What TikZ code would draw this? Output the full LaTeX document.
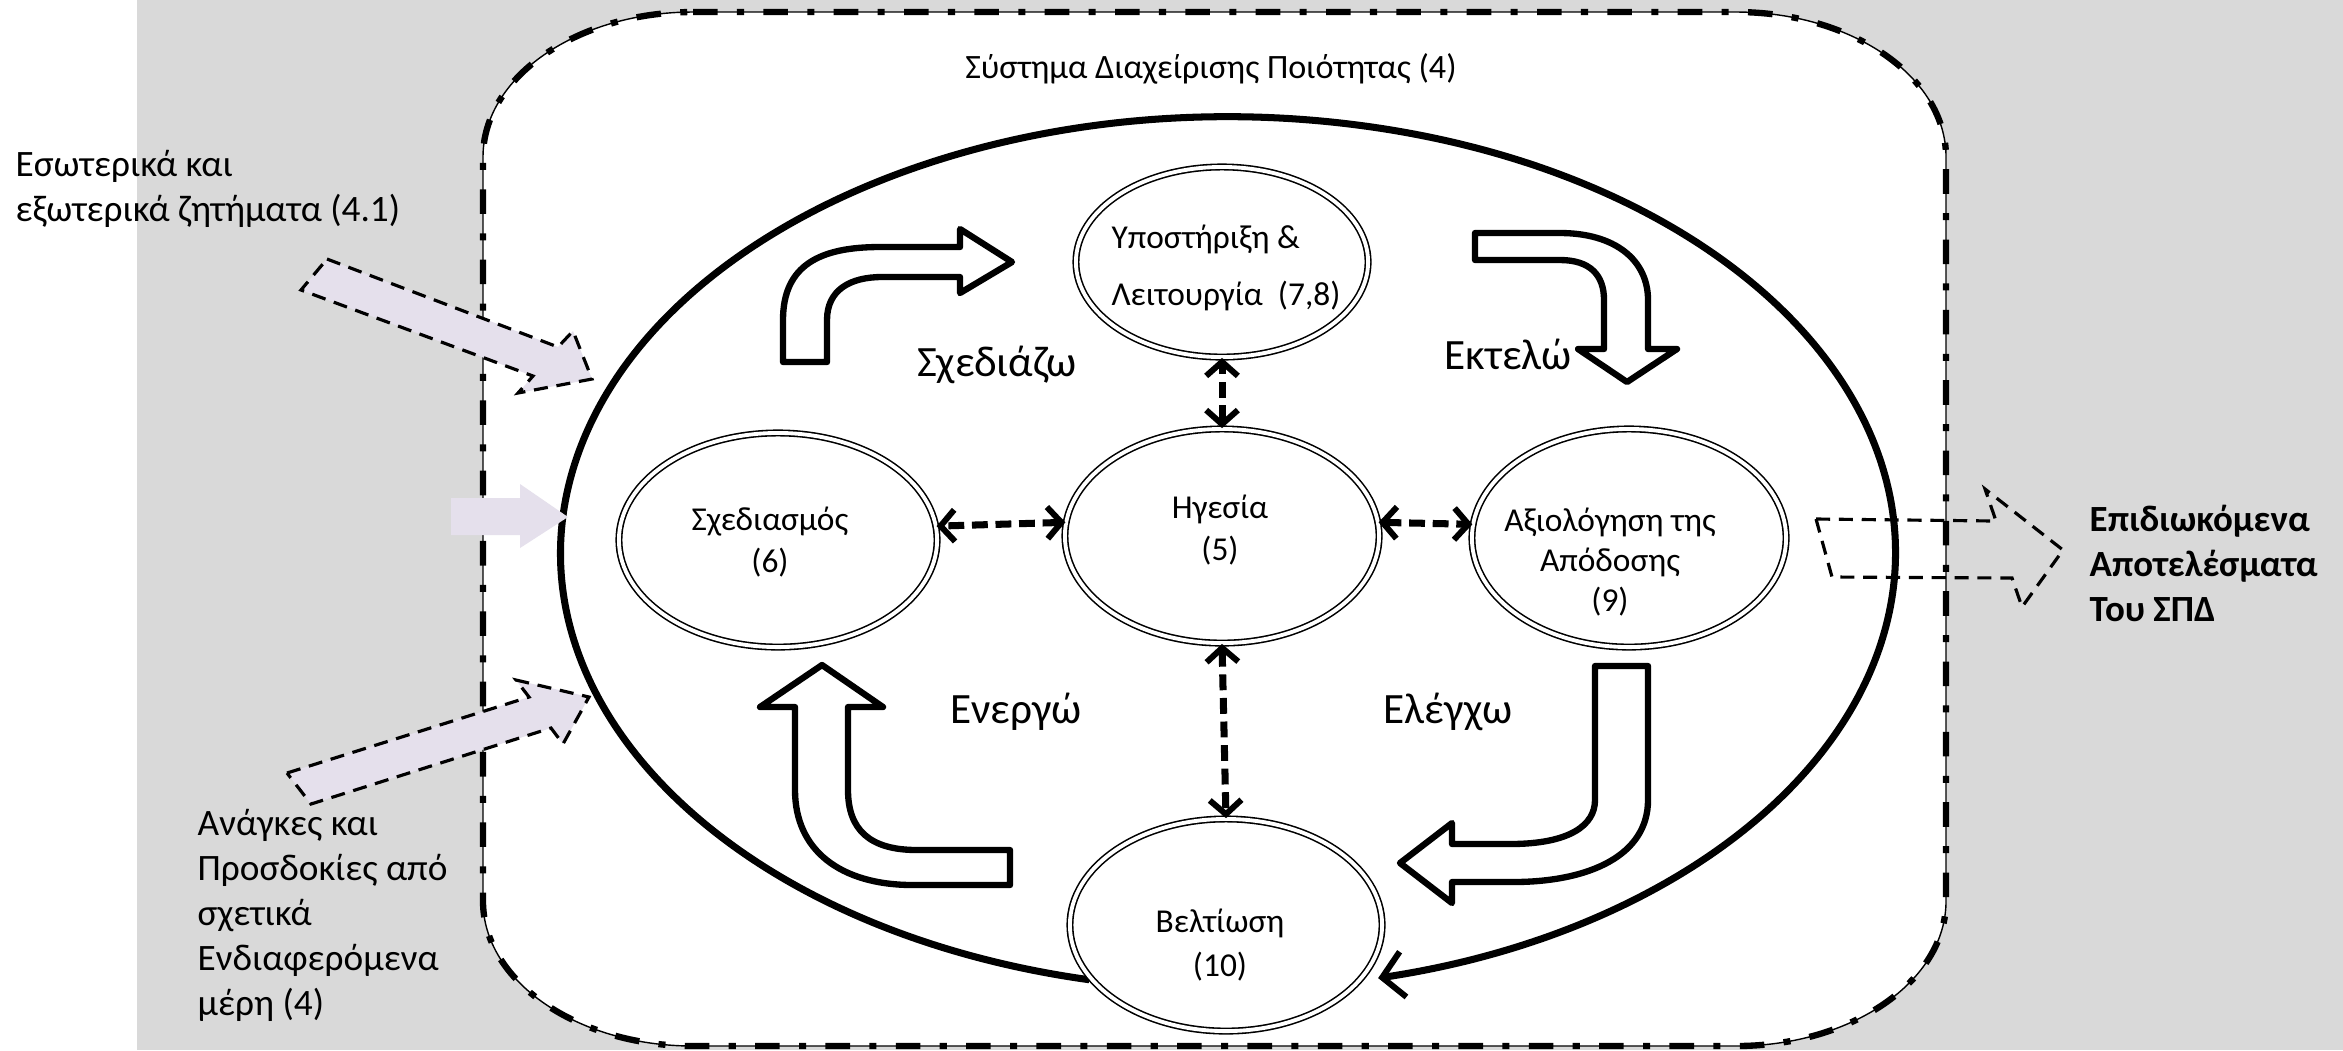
\documentclass[tikz,border=0pt]{standalone}
\usepackage{fontspec}
\setmainfont{Carlito}
\usetikzlibrary{shapes.geometric,arrows.meta}
\definecolor{bggray}{RGB}{217,217,217}
\definecolor{lilac}{RGB}{229,224,236}

\begin{document}
\begin{tikzpicture}[x=0.01cm,y=-0.01cm,
  stage/.style={ellipse,draw,double,double distance=1.1pt,line width=0.45pt,fill=white,inner sep=0pt},
  stagetext/.style={align=center,inner sep=0pt},
  link/.style={line width=2pt,dash pattern=on 4.5pt off 2.2pt,>={Straight Barb[length=4pt,width=9pt,line width=1.7pt]},<->},
  bentarrow/.style={draw,line width=1.8pt,line join=round,fill=white},
  inarrow/.style={draw,fill=lilac,line width=0.9pt,dash pattern=on 4pt off 2.5pt},
  cycletext/.style={font=\fontsize{12.3}{14}\selectfont,inner sep=0pt},
  sidetext/.style={align=left,anchor=west,inner sep=0pt,font=\fontsize{10.6}{12.8}\selectfont}]
\useasboundingbox (0,0) rectangle (2343,1050);
\fill[bggray] (137,0) rectangle (2343,1050);
\draw[fill=white,line width=0.4pt,postaction={draw,line width=1.8pt,dash pattern=on 7pt off 5.5pt on 2pt off 5.5pt}]
  (693,12) -- (1736,12) .. controls (1852,12) and (1946,77) .. (1946,157) -- (1946,901)
  .. controls (1946,981) and (1852,1046) .. (1736,1046) -- (693,1046)
  .. controls (577,1046) and (483,981) .. (483,901) -- (483,157)
  .. controls (483,77) and (577,12) .. (693,12) -- cycle;
\node[inner sep=0pt,font=\fontsize{9.7}{11}\selectfont] (title) at (1211,69) {Σύστημα Διαχείρισης Ποιότητας (4)};

\coordinate (sys) at (1228,553);
\draw[line width=2pt,-{Straight Barb[length=6pt,width=13pt,line width=1.7pt]}] ([shift={(258:6.67cm and 4.36cm)}]sys)
  arc[start angle=258,end angle=-77,x radius=6.67cm,y radius=4.36cm];

\draw[bentarrow] (783,362) -- (783,320) .. controls (783,265) and (820,247) .. (880,247) -- (960,247) -- (960,229) -- (1012,262)
  -- (960,293) -- (960,277) -- (882,277) .. controls (850,277) and (827,290) .. (827,320) -- (827,362) -- cycle;
\draw[bentarrow] (1475,233) -- (1560,233) .. controls (1615,233) and (1648,260) .. (1648,300) -- (1648,349) -- (1677,349)
  -- (1627,382) -- (1578,349) -- (1604,349) -- (1604,300) .. controls (1604,275) and (1590,260) .. (1560,260) -- (1475,260) -- cycle;
\draw[bentarrow] (1595,666) -- (1648,666) -- (1648,800) .. controls (1648,855) and (1590,882) .. (1513,882) -- (1452,882)
  -- (1452,903) -- (1400,863) -- (1452,823) -- (1452,844) -- (1510,844) .. controls (1570,844) and (1595,825) .. (1595,800) -- cycle;
\draw[bentarrow] (1010,850) -- (917,850) .. controls (870,850) and (848,830) .. (848,790) -- (848,707) -- (883,707) -- (822,665)
  -- (760,707) -- (795,707) -- (795,790) .. controls (795,850) and (840,885) .. (913,885) -- (1010,885) -- cycle;

\node[stage,minimum width=2.92cm,minimum height=1.9cm] (yp) at (1222,262) {};
\node[stagetext,align=left,font=\fontsize{9.5}{16}\selectfont] (yptext) at (1226,268) {Υποστήριξη \&\\Λειτουργία\ \ (7,8)};
\node[stage,minimum width=3.14cm,minimum height=2.14cm] (hg) at (1222,536) {};
\node[stagetext,font=\fontsize{9.5}{12.2}\selectfont] (hgtext) at (1220,530) {Ηγεσία\\(5)};
\node[stage,minimum width=3.18cm,minimum height=2.14cm] (sx) at (778,540) {};
\node[stagetext,font=\fontsize{9.5}{11.7}\selectfont] (sxtext) at (770,542) {Σχεδιασμός\\(6)};
\node[stage,minimum width=3.14cm,minimum height=2.18cm] (av) at (1629,538) {};
\node[stagetext,font=\fontsize{9.5}{11.4}\selectfont] (avtext) at (1610,562) {Αξιολόγηση της\\Απόδοσης\\(9)};
\node[stage,minimum width=3.12cm,minimum height=2.12cm] (bt) at (1226,925) {};
\node[stagetext,font=\fontsize{9.5}{12.5}\selectfont] (bttext) at (1220,945) {Βελτίωση\\(10)};

\draw[link] (hg.north) -- (yp.south);
\draw[link] (hg.south) -- (bt.north);
\draw[link] (hg.175) -- (sx.5);
\draw[link] (hg.5) -- (av.175);

\node[cycletext] (plan) at (997,365) {Σχεδιάζω};
\node[cycletext] (do) at (1508,354) {Εκτελώ};
\node[cycletext] (act) at (1016,712) {Ενεργώ};
\node[cycletext] (check) at (1448,712) {Ελέγχω};

\draw[inarrow] (327,259) -- (558,347) -- (573,331) -- (592,379) -- (518,393) -- (533,376) -- (301,290) -- cycle;
\fill[lilac] (451,498) -- (520,498) -- (520,484) -- (568,517) -- (520,548) -- (520,535) -- (451,535) -- cycle;
\draw[inarrow] (287,773) -- (529,697) -- (516,680) -- (589,697) -- (563,744) -- (551,728) -- (311,804) -- cycle;
\draw[line width=0.9pt,dash pattern=on 4pt off 2.5pt] (1816,519) -- (1996,521) -- (1985,489) -- (2063,550) -- (2022,607) -- (2012,578) -- (1832,577) -- cycle;

\node[sidetext] (issues) at (15,189) {Εσωτερικά και\\εξωτερικά ζητήματα (4.1)};
\node[sidetext] (needs) at (197,915) {Ανάγκες και\\Προσδοκίες από\\σχετικά\\Ενδιαφερόμενα\\μέρη (4)};
\node[sidetext,font=\fontsize{10.5}{12.8}\selectfont\bfseries] (results) at (2089,563) {Επιδιωκόμενα\\Αποτελέσματα\\Του ΣΠΔ};
\end{tikzpicture}
\end{document}
